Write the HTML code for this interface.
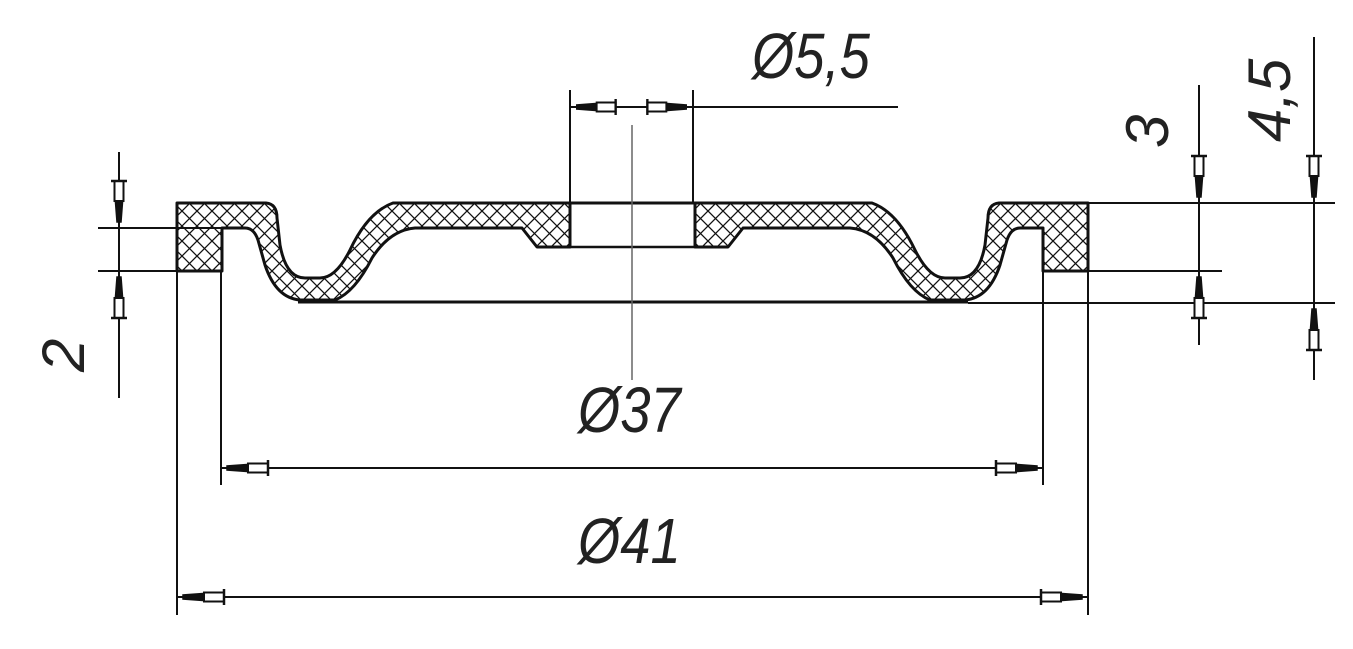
<!DOCTYPE html>
<html><head><meta charset="utf-8">
<style>
html,body{margin:0;padding:0;background:#fff;}
svg{display:block;}
text{font-family:"Liberation Sans",sans-serif;font-style:italic;fill:#222;}
</style></head>
<body>
<svg width="1353" height="649" viewBox="0 0 1353 649" xmlns="http://www.w3.org/2000/svg">
<defs>
<pattern id="h" width="15" height="15" patternUnits="userSpaceOnUse" patternTransform="translate(2,1)">
<path d="M0,0 L15,15 M15,0 L0,15" stroke="#111" stroke-width="1.3"/>
</pattern>
<g id="ar">
<path d="M6,-2 L6,2 L32,4 L32,-4 Z" fill="#111" stroke="#111" stroke-width="1.5"/>
<rect x="27" y="-4.5" width="20" height="9" fill="#fff" stroke="#111" stroke-width="2"/>
<path d="M47,-8 L47,8" stroke="#111" stroke-width="2.5"/>
</g>
</defs>

<g id="half" stroke="#111" stroke-width="3" stroke-linejoin="round">
<path fill="url(#h)" d="M177,203 L266,203 Q277,204 277,218 L280,245 Q286,278 305,278 L320,278 Q336,278 350,250 Q368,212 393,203 L570,203 L570,247 L537,247 L522,228 L415,228 Q390,230 372,258 Q355,292 335,300 L300,300 Q276,298 265,265 L258,240 Q254,228 245,228 L222,228 L222,271 L177,271 Z"/>
</g>
<use href="#half" transform="translate(1265,0) scale(-1,1)"/>
<g stroke="#111" stroke-width="3" fill="none">
<line x1="570" y1="203" x2="695" y2="203"/>
<line x1="537" y1="247" x2="728" y2="247" stroke-width="2.5"/>
<line x1="298" y1="302" x2="968" y2="302"/>
</g>

<g stroke="#111" stroke-width="2" fill="none">
<line x1="98" y1="228" x2="222" y2="228"/>
<line x1="98" y1="271" x2="177" y2="271"/>
<line x1="119" y1="152" x2="119" y2="398"/>
<line x1="1088" y1="203" x2="1335" y2="203"/>
<line x1="1043" y1="271" x2="1222" y2="271"/>
<line x1="968" y1="303" x2="1335" y2="303"/>
<line x1="1199" y1="85" x2="1199" y2="345"/>
<line x1="1314" y1="37" x2="1314" y2="380"/>
<line x1="570" y1="90" x2="570" y2="203"/>
<line x1="693" y1="90" x2="693" y2="203"/>
<line x1="570" y1="107" x2="898" y2="107"/>
<line x1="221" y1="271" x2="221" y2="485"/>
<line x1="1043" y1="271" x2="1043" y2="485"/>
<line x1="221" y1="468" x2="1043" y2="468"/>
<line x1="177" y1="271" x2="177" y2="615"/>
<line x1="1088" y1="271" x2="1088" y2="615"/>
<line x1="177" y1="597" x2="1088" y2="597"/>
</g>
<line x1="632" y1="125" x2="632" y2="380" stroke="#666" stroke-width="1.5"/>

<use href="#ar" transform="translate(221,468)"/>
<use href="#ar" transform="translate(1043,468) scale(-1,1)"/>
<use href="#ar" transform="translate(177,597)"/>
<use href="#ar" transform="translate(1088,597) scale(-1,1)"/>
<use href="#ar" transform="translate(571,107) scale(0.95,1)"/>
<use href="#ar" transform="translate(692,107) scale(-0.95,1)"/>
<use href="#ar" transform="translate(119,228) rotate(-90)"/>
<use href="#ar" transform="translate(119,271) rotate(90)"/>
<use href="#ar" transform="translate(1199,203) rotate(-90)"/>
<use href="#ar" transform="translate(1199,271) rotate(90)"/>
<use href="#ar" transform="translate(1314,203) rotate(-90)"/>
<use href="#ar" transform="translate(1314,303) rotate(90)"/>

<text x="752" y="78" font-size="64" transform="translate(752,78) scale(0.85,1) translate(-752,-78)">Ø5,5</text>
<text x="578" y="432" font-size="64" transform="translate(578,432) scale(0.85,1) translate(-578,-432)">Ø37</text>
<text x="578" y="563" font-size="64" transform="translate(578,563) scale(0.85,1) translate(-578,-563)">Ø41</text>
<text font-size="60" transform="translate(84,372) rotate(-90)">2</text>
<text font-size="60" transform="translate(1168,148) rotate(-90)">3</text>
<text font-size="60" transform="translate(1290,142) rotate(-90)">4,5</text>
</svg>
</body></html>
